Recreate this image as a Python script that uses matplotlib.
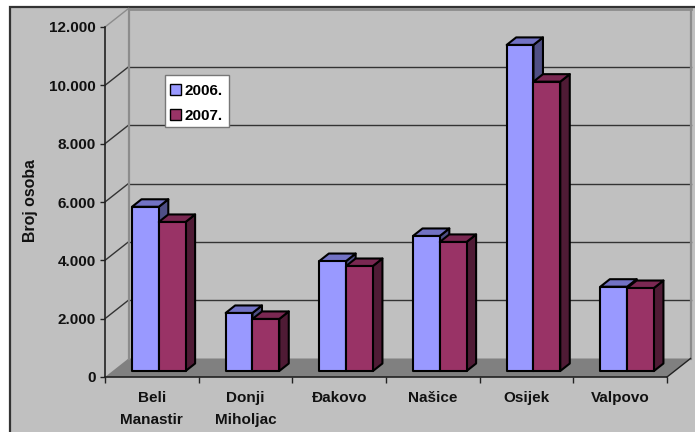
"""Clustered pseudo-3D column chart of persons per town, 2006 and 2007."""

import matplotlib

matplotlib.use("Agg")
import matplotlib.pyplot as plt
from matplotlib.patches import Patch, Polygon, Rectangle

towns = ["Beli\nManastir", "Donji\nMiholjac", "Đakovo", "Našice", "Osijek", "Valpovo"]
values_2006 = [5630, 1990, 3770, 4630, 11180, 2890]
values_2007 = [5110, 1785, 3600, 4425, 9920, 2845]
value_ticks = [0, 2000, 4000, 6000, 8000, 10000, 12000]
tick_labels = ["0", "2.000", "4.000", "6.000", "8.000", "10.000", "12.000"]
series_names = ["2006.", "2007."]

WIDTH, HEIGHT = 695, 432
LEFT, RIGHT, TOP, BOTTOM = 105, 667, 27, 377
PX_X = len(towns) / (RIGHT - LEFT)
PX_Y = value_ticks[-1] / (BOTTOM - TOP)

# wall depth and bar depth, in data units
WALL_DX, WALL_DY = 23.5 * PX_X, 18.5 * PX_Y
BAR_DX, BAR_DY = 9.5 * PX_X, 7.5 * PX_Y
BAR_WIDTH = 26.8 * PX_X
BAR_START = 27 * PX_X
BAR_BASE = 6 * PX_Y

BACKGROUND = "#c0c0c0"
FRONT = ["#9999ff", "#993366"]
TOPS = ["#7272c4", "#7a2852"]
SIDES = ["#4f4f85", "#4f1b35"]
DARK = "#222222"

plt.rcParams["font.family"] = ["Liberation Sans", "DejaVu Sans"]
plt.rcParams["font.weight"] = "bold"
plt.rcParams["font.size"] = 11

fig = plt.figure(figsize=(WIDTH / 100, HEIGHT / 100), dpi=100, facecolor="white")
fig.add_artist(
    Rectangle(
        (10 / WIDTH, -0.02),
        1.0,
        1.02 - 7 / HEIGHT,
        transform=fig.transFigure,
        facecolor=BACKGROUND,
        edgecolor="#333333",
        linewidth=1.6,
        zorder=-1,
    )
)

ax = fig.add_axes(
    [LEFT / WIDTH, 1 - BOTTOM / HEIGHT, (RIGHT - LEFT) / WIDTH, (BOTTOM - TOP) / HEIGHT]
)
ax.patch.set_visible(False)
ax.set_xlim(0, len(towns))
ax.set_ylim(0, value_ticks[-1])
for side in ["top", "right"]:
    ax.spines[side].set_visible(False)
for side in ["left", "bottom"]:
    ax.spines[side].set_color(DARK)
    ax.spines[side].set_linewidth(1.2)
    ax.spines[side].set_zorder(3)

n = len(towns)
ymax = value_ticks[-1]

# floor
ax.add_patch(
    Polygon(
        [(0, 0), (n, 0), (n + WALL_DX, WALL_DY), (WALL_DX, WALL_DY)],
        facecolor="#808080",
        edgecolor="none",
        clip_on=False,
        zorder=1,
    )
)

# back wall grid and the diagonals on the side wall
for value in value_ticks[1:]:
    color = "#8c8c8c" if value == ymax else "#333333"
    lw = 2 if value == ymax else 1
    ax.plot(
        [WALL_DX, n + WALL_DX],
        [value + WALL_DY] * 2,
        color=color,
        lw=lw,
        clip_on=False,
        zorder=1.5,
    )
    ax.plot(
        [0, WALL_DX],
        [value, value + WALL_DY],
        color=color,
        lw=1,
        clip_on=False,
        zorder=1.5,
    )
ax.plot(
    [WALL_DX, WALL_DX],
    [WALL_DY, ymax + WALL_DY],
    color="#8c8c8c",
    lw=1.6,
    clip_on=False,
    zorder=1.6,
)
ax.plot(
    [n + WALL_DX, n + WALL_DX],
    [WALL_DY, ymax + WALL_DY],
    color="#8c8c8c",
    lw=1.6,
    clip_on=False,
    zorder=1.6,
)
ax.plot([n, n + WALL_DX], [0, WALL_DY], color=DARK, lw=1, clip_on=False, zorder=1.6)

# bars: side and top faces are offset polygons behind the front face
edge = dict(edgecolor="black", linewidth=1.5, clip_on=False, joinstyle="round")
for s, values in enumerate([values_2006, values_2007]):
    zorder = 4 + s
    for i, value in enumerate(values):
        x0 = i + BAR_START + s * BAR_WIDTH
        x1 = x0 + BAR_WIDTH
        y0 = BAR_BASE
        y1 = BAR_BASE + value
        ax.add_patch(
            Polygon(
                [(x1, y0), (x1 + BAR_DX, y0 + BAR_DY), (x1 + BAR_DX, y1 + BAR_DY), (x1, y1)],
                facecolor=SIDES[s],
                zorder=zorder,
                **edge,
            )
        )
        ax.add_patch(
            Polygon(
                [(x0, y1), (x1, y1), (x1 + BAR_DX, y1 + BAR_DY), (x0 + BAR_DX, y1 + BAR_DY)],
                facecolor=TOPS[s],
                zorder=zorder,
                **edge,
            )
        )
        ax.bar(
            x0,
            value,
            width=BAR_WIDTH,
            bottom=y0,
            align="edge",
            color=FRONT[s],
            zorder=zorder,
            **edge,
        )

ax.set_yticks(value_ticks, tick_labels)
ax.set_xticks(range(n + 1), [""] * (n + 1))
ax.set_xticks([i + 0.5 for i in range(n)], towns, minor=True, linespacing=1.75)
ax.tick_params(axis="y", length=3.6, width=1, color=DARK, pad=3, labelcolor="#111111")
ax.tick_params(axis="x", which="major", length=4.5, width=1, color=DARK)
ax.tick_params(axis="x", which="minor", length=0, pad=10, labelcolor="#111111")
ax.set_xlim(0, n)
ax.set_ylim(0, ymax)

fig.text(
    30 / WIDTH,
    1 - 201 / HEIGHT,
    "Broj osoba",
    rotation=90,
    ha="center",
    va="center",
    color="#111111",
    fontsize=11.4,
)

# legend box is drawn separately so its size can follow the reference
fig.add_artist(
    Rectangle(
        (165 / WIDTH, 1 - 127 / HEIGHT),
        64 / WIDTH,
        52 / HEIGHT,
        transform=fig.transFigure,
        facecolor="white",
        edgecolor="#777777",
        linewidth=1,
        zorder=9,
    )
)
handles = [Patch(facecolor=FRONT[s], edgecolor="black", linewidth=1) for s in range(2)]
legend = fig.legend(
    handles,
    series_names,
    loc="upper left",
    bbox_to_anchor=(170 / WIDTH, 1 - 84 / HEIGHT),
    borderaxespad=0,
    borderpad=0,
    handlelength=0.7,
    handleheight=0.7,
    handletextpad=0.25,
    labelspacing=0.72,
    frameon=False,
)
legend.set_zorder(10)

fig.savefig("out.png", dpi=100, facecolor=fig.get_facecolor())
